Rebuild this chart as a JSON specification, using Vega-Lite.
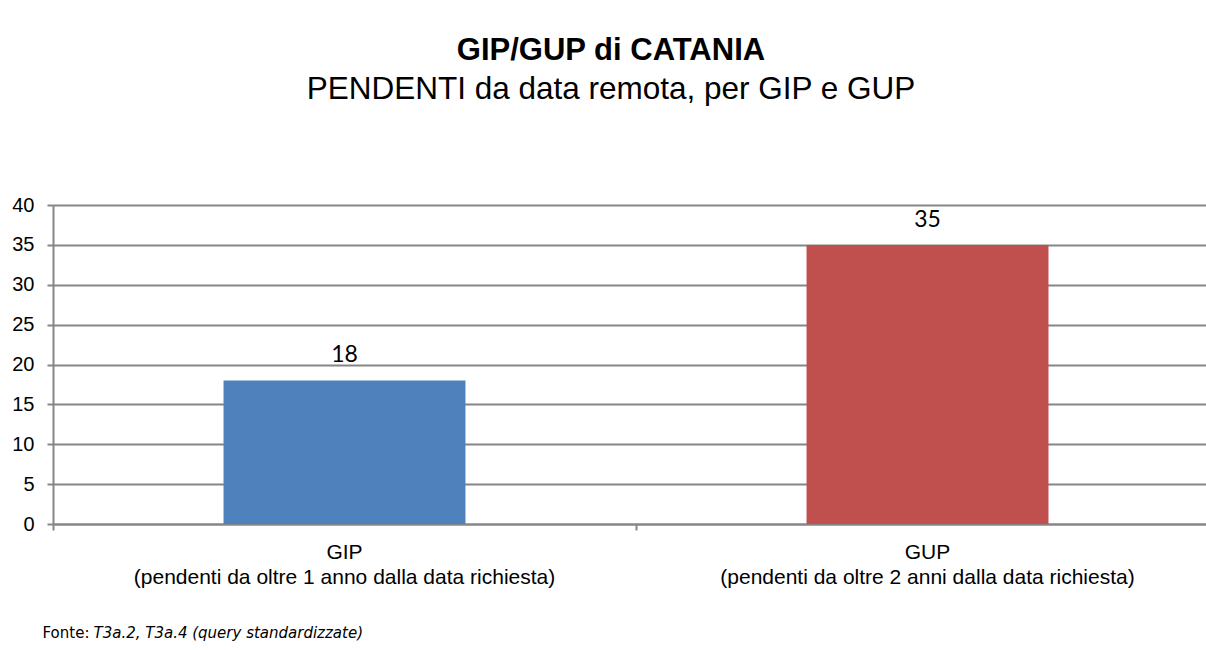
{
  "$schema": "https://vega.github.io/schema/vega-lite/v6.json",
  "width": 1166,
  "height": 319,
  "autosize": {"type": "none"},
  "padding": {"left": 53, "top": 205, "right": 0, "bottom": 126},
  "background": "white",
  "title": {
    "text": "GIP/GUP di CATANIA",
    "subtitle": "PENDENTI da data remota, per GIP e GUP",
    "anchor": "middle",
    "dx": -25,
    "offset": 89,
    "font": "Liberation Sans",
    "fontSize": 31,
    "fontWeight": "bold",
    "color": "black",
    "subtitleFont": "Liberation Sans",
    "subtitleFontSize": 31.5,
    "subtitleColor": "black",
    "subtitlePadding": 7
  },
  "data": {
    "values": [
      {"categoria": "GIP\n(pendenti da oltre 1 anno dalla data richiesta)", "valore": 18},
      {"categoria": "GUP\n(pendenti da oltre 2 anni dalla data richiesta)", "valore": 35}
    ]
  },
  "encoding": {
    "y": {
      "field": "valore",
      "type": "quantitative",
      "scale": {"domain": [0, 40]},
      "axis": {
        "values": [0, 5, 10, 15, 20, 25, 30, 35, 40],
        "title": null,
        "grid": true,
        "gridColor": "#868686",
        "gridWidth": 2,
        "domain": true,
        "domainColor": "#868686",
        "domainWidth": 2,
        "ticks": true,
        "tickColor": "#868686",
        "tickWidth": 2,
        "tickSize": 6,
        "labelFont": "Liberation Sans",
        "labelFontSize": 20,
        "labelColor": "black",
        "labelPadding": 13
      }
    }
  },
  "layer": [
    {
      "mark": {"type": "bar", "width": {"band": 0.415}},
      "encoding": {
        "x": {
          "field": "categoria",
          "type": "nominal",
          "sort": null,
          "scale": {"type": "band", "paddingInner": 0, "paddingOuter": 0},
          "axis": {
            "orient": "bottom",
            "labelAngle": 0,
            "labelExpr": "split(datum.label, '\\n')",
            "labelFont": "Liberation Sans",
            "labelFontSize": 21,
            "labelColor": "black",
            "labelLineHeight": 25,
            "labelLimit": 700,
            "labelPadding": 11,
            "labelBaseline": "top",
            "bandPosition": 0,
            "grid": false,
            "domain": true,
            "domainColor": "#868686",
            "domainWidth": 2,
            "ticks": true,
            "tickColor": "#868686",
            "tickWidth": 2,
            "tickSize": 6,
            "title": "Fonte:",
            "titleX": -11,
            "titleY": 108,
            "titleAlign": "left",
            "titleBaseline": "middle",
            "titleAngle": 0,
            "titleFont": "DejaVu Sans",
            "titleFontSize": 15,
            "titleFontWeight": "normal",
            "titleColor": "black"
          }
        },
        "color": {
          "field": "categoria",
          "type": "nominal",
          "sort": null,
          "scale": {"range": ["#4F81BD", "#C0504D"]},
          "legend": null
        }
      }
    },
    {
      "mark": {"type": "text", "dy": -18, "baseline": "alphabetic", "font": "Lato", "fontSize": 23, "color": "black"},
      "encoding": {
        "x": {
          "field": "categoria",
          "type": "nominal",
          "sort": null,
          "scale": {"type": "band", "paddingInner": 0, "paddingOuter": 0},
          "axis": {
            "orient": "top",
            "labels": false,
            "ticks": false,
            "domain": false,
            "grid": false,
            "title": "T3a.2, T3a.4 (query standardizzate)",
            "titleX": 40,
            "titleY": 427,
            "titleAlign": "left",
            "titleBaseline": "middle",
            "titleAngle": 0,
            "titleFont": "DejaVu Sans",
            "titleFontSize": 15,
            "titleFontWeight": "normal",
            "titleFontStyle": "italic",
            "titleColor": "black"
          }
        },
        "text": {"field": "valore", "type": "quantitative"}
      }
    }
  ],
  "resolve": {"scale": {"x": "independent"}, "axis": {"x": "independent"}},
  "config": {"view": {"stroke": null}}
}
